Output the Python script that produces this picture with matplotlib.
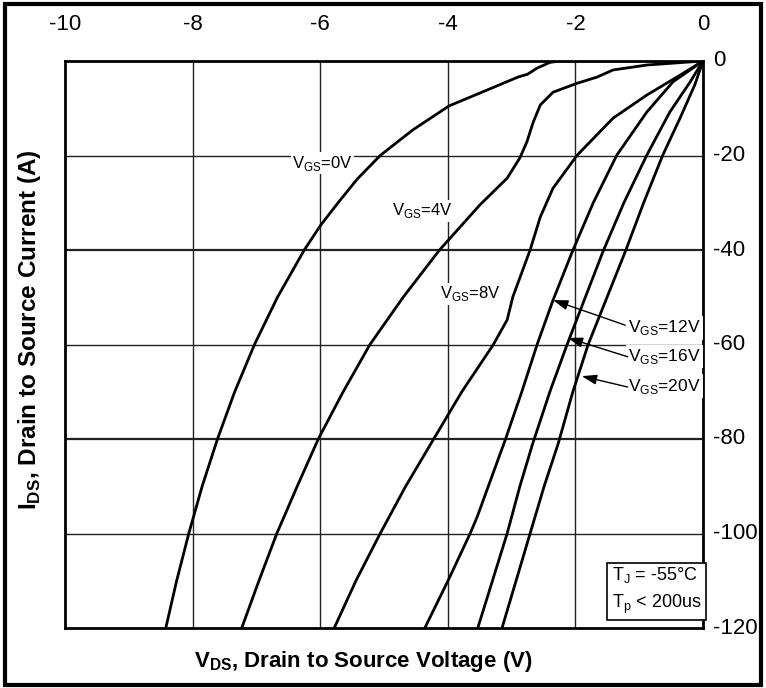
import matplotlib
matplotlib.use("Agg")
import matplotlib.pyplot as plt
from matplotlib.patches import Rectangle

plt.rcParams['font.family'] = ['Liberation Sans Narrow', 'Liberation Sans', 'DejaVu Sans']
plt.rcParams['axes.unicode_minus'] = False
plt.rcParams['mathtext.fontset'] = 'custom'
plt.rcParams['mathtext.rm'] = 'Liberation Sans'
plt.rcParams['mathtext.bf'] = 'Liberation Sans:bold'

# curves: drain-source voltage (V) vs drain current (A)
vgs0_v = [-8.42, -8.25, -8.06, -7.85, -7.61, -7.34, -7.03, -6.67, -6.25, -5.99, -5.72, -5.42,
          -5.06, -4.55, -3.98, -3.5, -2.9, -2.75, -2.6, -2.4, -2.24, 0]
vgs0_i = [-120, -110, -100, -90, -80, -70, -60, -50, -40, -34.7, -30, -25,
          -20, -14.6, -9.5, -6.8, -3.4, -2.8, -1.5, -0.3, 0, 0]

vgs4_v = [-7.23, -6.96, -6.68, -6.36, -6.03, -5.64, -5.22, -4.70, -4.13, -3.5, -3.07,
          -2.87, -2.76, -2.66, -2.55, -2.35, -1.97, -1.66, -1.41, -0.88, 0]
vgs4_i = [-120, -110, -100, -90, -80, -70, -60, -50, -40, -30.5, -24.8,
          -20.5, -17.1, -12.9, -9.3, -6.6, -4.7, -3.4, -1.9, -0.85, 0]

vgs8_v = [-5.78, -5.44, -5.06, -4.66, -4.23, -3.78, -3.29, -3.07, -2.98, -2.71, -2.55,
          -2.35, -1.97, -1.41, -0.88, -0.36, 0]
vgs8_i = [-120, -110, -100, -90, -80.2, -70, -60.1, -54.8, -49.9, -40, -33,
          -26.9, -19.9, -12.1, -7.2, -3.0, 0]

vgs12_v = [-4.36, -3.99, -3.65, -3.54, -3.10, -2.84, -2.60, -2.35, -2.05, -1.72, -1.35, -0.88, -0.47, 0]
vgs12_i = [-120, -109.8, -100, -96.5, -80.2, -70, -60, -50.6, -40.4, -30, -19.9, -10.8, -4.4, 0]

vgs16_v = [-3.53, -3.30, -3.07, -2.87, -2.67, -2.40, -2.13, -1.57, -1.24, -0.88, -0.52, -0.20, 0]
vgs16_i = [-120, -110, -100, -90, -81, -70, -60, -40.4, -30, -19.9, -10.8, -4.4, 0]

vgs20_v = [-3.15, -2.93, -2.71, -2.49, -2.27, -2.04, -1.80, -1.22, -0.93, -0.63, -0.36, -0.13, 0]
vgs20_i = [-120, -110, -100, -90, -81, -70, -60, -40.4, -30, -19.9, -12.1, -5.1, 0]

curves = [(vgs0_v, vgs0_i), (vgs4_v, vgs4_i), (vgs8_v, vgs8_i),
          (vgs12_v, vgs12_i), (vgs16_v, vgs16_i), (vgs20_v, vgs20_i)]

fig = plt.figure(figsize=(7.66, 6.88), dpi=100)
ax = fig.add_axes([65/766, 60/688, 638/766, 567/688])

ax.set_xlim(-10, 0)
ax.set_ylim(-120, 0)
ax.set_xticks(range(-10, 1, 2))
ax.set_yticks(range(-120, 1, 20))
ax.xaxis.tick_top()
ax.yaxis.tick_right()
ax.tick_params(length=0, labelsize=16)
ax.tick_params(axis='x', pad=19)
ax.tick_params(axis='y', pad=7)
for lab in ax.get_yticklabels():
    lab.set_verticalalignment('center')

# grid
for x in range(-8, 0, 2):
    ax.axvline(x, color='#222222', lw=1.0, zorder=1)
for y in range(-100, 0, 20):
    ax.axhline(y, color='#222222', lw=1.6 if y in (-40, -80) else 1.0, zorder=1)
for s in ax.spines.values():
    s.set_linewidth(2.0)

for v, i in curves:
    ax.plot(v, i, color='black', lw=2.0, zorder=3, solid_capstyle='round', solid_joinstyle='round')

bg = dict(facecolor='white', edgecolor='none', pad=1)
ax.text(-5.96, -21.6, r'V$_{\rm GS}$=0V', fontsize=12, ha='center', va='center', bbox=bg, zorder=4)
ax.text(-4.40, -31.7, r'V$_{\rm GS}$=4V', fontsize=12, ha='center', va='center', bbox=bg, zorder=4)
ax.text(-3.64, -49.3, r'V$_{\rm GS}$=8V', fontsize=12, ha='center', va='center', bbox=bg, zorder=4)

right_labels = [(r'V$_{\rm GS}$=12V', -56.5, (-1.22, -55.9), (-2.35, -50.6)),
                (r'V$_{\rm GS}$=16V', -62.6, (-1.18, -62.6), (-2.12, -58.6)),
                (r'V$_{\rm GS}$=20V', -68.8, (-1.18, -69.0), (-1.90, -66.7))]
for txt, yy, start, tip in right_labels:
    ax.text(-1.17, yy, txt, fontsize=12.5, ha='left', va='center',
            bbox=dict(facecolor='white', edgecolor='none', pad=1.5), zorder=4)
    ax.annotate('', xy=tip, xytext=start,
                arrowprops=dict(arrowstyle='-|>,head_length=0.9,head_width=0.3',
                                color='black', lw=1.0, shrinkA=0, shrinkB=0), zorder=5)

ax.text(-1.43, -112.0, 'T$_{\\rm J}$ = -55\u00b0C\nT$_{\\rm p}$ < 200us', fontsize=13,
        ha='left', va='center', linespacing=1.5,
        bbox=dict(facecolor='white', edgecolor='black', lw=1.2, boxstyle='square,pad=0.25'),
        zorder=6)

fig.text(363/766, 1 - 662/688, r'V$_{\mathbf{DS}}$, Drain to Source Voltage (V)',
         family='Liberation Sans', fontweight='bold', fontsize=16, ha='center', va='center')
fig.text(30/766, 1 - 330/688, r'I$_{\mathbf{DS}}$, Drain to Source Current (A)',
         family='Liberation Sans', fontweight='bold', fontsize=17.5, ha='center', va='center',
         rotation=90)

fig.patches.append(Rectangle((5/766, 3/688), 756/766, 681/688, transform=fig.transFigure,
                             fill=False, edgecolor='black', lw=3.0))

fig.savefig('out.png', dpi=100)
